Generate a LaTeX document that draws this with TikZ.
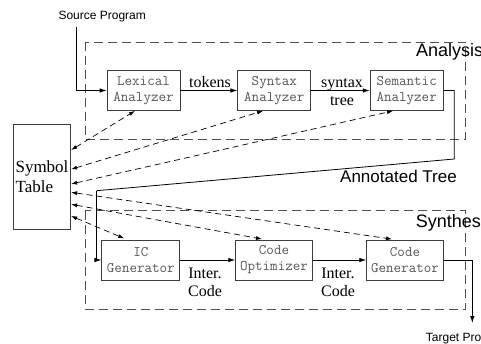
\documentclass[tikz,border=0pt]{standalone}
\usepackage{fontspec}
\setmainfont{Liberation Serif}
\setsansfont{Liberation Sans}
\usetikzlibrary{arrows.meta}
\definecolor{boxgray}{RGB}{60,60,60}
\definecolor{txtgray}{RGB}{85,85,85}
\definecolor{dashgray}{RGB}{80,80,80}
\begin{document}
\begin{tikzpicture}[x=1pt,y=-1pt,
  phase/.style={draw=boxgray, line width=0.8pt, minimum width=73pt, minimum height=40pt,
    inner sep=0pt, align=center, text=txtgray, font=\fontsize{14.6}{16}\selectfont\ttfamily},
  region/.style={draw=dashgray, dash pattern=on 9pt off 5pt, line width=0.7pt},
  symlink/.style={{Latex[length=6pt,width=4pt]}-{Latex[length=6pt,width=4pt]}, dash pattern=on 6pt off 4pt, line width=0.7pt},
  flow/.style={-{Latex[length=7pt,width=4.5pt]}, line width=0.8pt},
  seriflbl/.style={font=\fontsize{16}{18}\selectfont, inner sep=0pt},
  sanslbl/.style={font=\sffamily\fontsize{12}{14}\selectfont, inner sep=0pt},
  biglbl/.style={font=\sffamily\fontsize{18}{20}\selectfont, inner sep=0pt}]
\useasboundingbox (0,0) rectangle (481,344);

% regions
\draw[region] (85,42) rectangle (465.7,139.3);
\draw[region] (85,210.7) rectangle (465.7,309);

% phase boxes
\node[phase] (lex) at (143.5,90.5) {Lexical\\Analyzer};
\node[phase] (syn) at (274.3,90.5) {Syntax\\Analyzer};
\node[phase] (sem) at (406.7,90.5) {Semantic\\Analyzer};
\node[phase, minimum width=78pt] (ic) at (140.8,260) {IC\\Generator};
\node[phase, minimum width=76.6pt] (co) at (274,260) {Code\\Optimizer};
\node[phase, minimum width=76.6pt] (cg) at (405,260) {Code\\Generator};

% symbol table
\node[draw=boxgray, line width=0.8pt, minimum width=57.4pt, minimum height=105pt,
  inner sep=0pt, align=left, font=\fontsize{17}{20}\selectfont] (st) at (42,176.5) {Symbol\\Table};

% labels
\node[sanslbl, anchor=base west] (src) at (58.3,20) {Source Program};
\node[sanslbl, anchor=base west] (tgt) at (425.7,341.7) {Target Program};
\node[biglbl, anchor=base west] (ana) at (416,56.7) {Analysis};
\node[biglbl, anchor=base west] (syh) at (415.7,227.3) {Synthesis};
\node[font=\sffamily\fontsize{17}{20}\selectfont, inner sep=0pt, anchor=base west] (ann) at (340,182.7) {Annotated Tree};
\node[seriflbl, anchor=base] (tok) at (210,87.3) {tokens};
\node[seriflbl, anchor=base] (stx) at (342,87.3) {syntax};
\node[seriflbl, anchor=base] (tre) at (342,105.3) {tree};
\node[seriflbl, anchor=base] (ic1) at (205,278.3) {Inter.};
\node[seriflbl, anchor=base] (ic2) at (205,296) {Code};
\node[seriflbl, anchor=base] (ic3) at (338,278.3) {Inter.};
\node[seriflbl, anchor=base] (ic4) at (338,296) {Code};

% coordinates
\coordinate (srcstart) at (76,27);
\coordinate (a2) at (454.3,159);
\coordinate (a3) at (96.7,190.7);
\coordinate (tgtend) at (472.3,323);

% main flow
\draw[flow] (srcstart) |- (lex.west);
\draw[flow] (lex.east) -- (syn.west);
\draw[flow] (syn.east) -- (sem.west);
\draw[line width=0.8pt] (sem.east) -| (a2) -- (a3);
\draw[flow] (a3) |- (ic.west);
\draw[flow] (ic.east) -- (co.west);
\draw[flow] (co.east) -- (cg.west);
\draw[flow] (cg.east) -| (tgtend);

% symbol table links
\draw[symlink] (st.east |- 0,150) -- (135,0 |- lex.south);
\draw[symlink] (st.east |- 0,169.3) -- (263,0 |- syn.south);
\draw[symlink] (st.east |- 0,184) -- (393,0 |- sem.south);
\draw[symlink, shorten >=3pt] (st.east |- 0,192.3) -- (395,0 |- cg.north);
\draw[symlink, shorten >=3pt] (st.east |- 0,204.3) -- (265,0 |- co.north);
\draw[symlink, shorten >=3pt] (st.east |- 0,216) -- (127,0 |- ic.north);
\end{tikzpicture}
\end{document}
